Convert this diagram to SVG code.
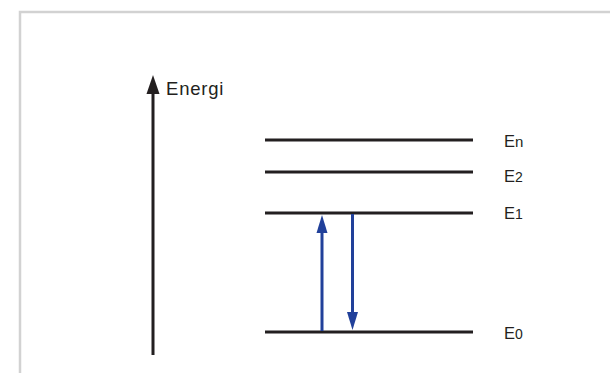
<svg xmlns="http://www.w3.org/2000/svg" width="610" height="373" viewBox="0 0 610 373">
<style>
.frame{fill:none;stroke:#d2d2d2;stroke-width:2.5}
.level{stroke:#231f20;stroke-width:3}
.trans{stroke:#21409a;stroke-width:3}
.lbl{font-family:"Liberation Sans",Arial,sans-serif;fill:#231f20}
.sub{font-size:14px}
</style>
<rect width="610" height="373" fill="#fff"/>
<rect class="frame" x="20" y="12" width="600" height="380"/>
<g id="axis">
<line x1="153" y1="355" x2="153" y2="90" stroke="#231f20" stroke-width="3"/>
<polygon points="153,75 159.5,94 146.5,94" fill="#231f20"/>
<text class="lbl" x="166" y="94.5" font-size="18.5" letter-spacing="0.8">Energi</text>
</g>
<g id="level-En">
<line class="level" x1="265" y1="140" x2="473" y2="140"/>
<text class="lbl" x="504" y="147" font-size="16.5">E<tspan font-size="15">n</tspan></text>
</g>
<g id="level-E2">
<line class="level" x1="265" y1="172" x2="473" y2="172"/>
<text class="lbl" x="504" y="181.5" font-size="16.5">E<tspan class="sub">2</tspan></text>
</g>
<g id="level-E1">
<line class="level" x1="265" y1="213" x2="473" y2="213"/>
<text class="lbl" x="504" y="218.5" font-size="16.5">E<tspan class="sub">1</tspan></text>
</g>
<g id="level-E0">
<line class="level" x1="265" y1="332" x2="473" y2="332"/>
<text class="lbl" x="504" y="339" font-size="16.5">E<tspan class="sub">0</tspan></text>
</g>
<g id="connectors">
<line class="trans" x1="322" y1="331" x2="322" y2="230"/>
<polygon points="322,215 327.5,233 316.5,233" fill="#21409a"/>
<line class="trans" x1="352.5" y1="214" x2="352.5" y2="316"/>
<polygon points="352.5,330 358,312 347,312" fill="#21409a"/>
</g>
</svg>
